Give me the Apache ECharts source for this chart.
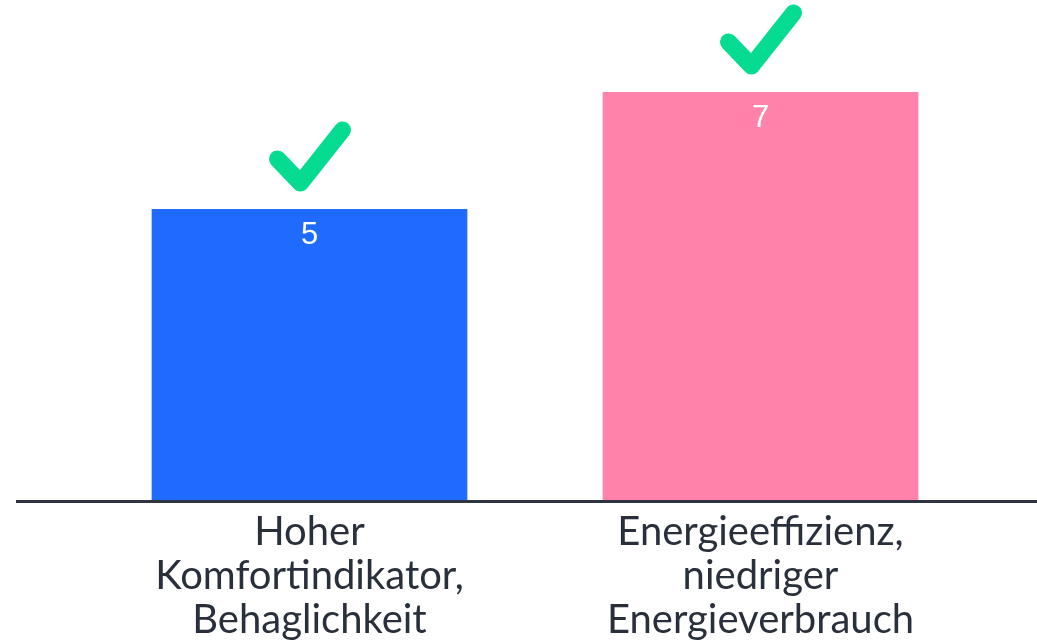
<!DOCTYPE html>
<html><head><meta charset="utf-8">
<script src="https://cdn.jsdelivr.net/npm/echarts@6/dist/echarts.min.js"></script>
<style>html,body{margin:0;padding:0;background:#fff}#c{width:1037px;height:644px}</style>
</head><body><div id="c"></div>
<script>
const categories = ['Hoher\nKomfortindikator,\nBehaglichkeit', 'Energieeffizienz,\nniedriger\nEnergieverbrauch'];
const values = [5, 7];
const barColors = ['#1F6BFF', '#FF82AA'];

const chart = echarts.init(document.getElementById('c'), null, {renderer: 'canvas'});
chart.setOption({
  animation: false,
  grid: {left: 84, width: 902, top: 33.5, bottom: 142.5, containLabel: false},
  xAxis: {
    type: 'category', data: categories,
    axisLine: {show: false}, axisTick: {show: false},
    axisLabel: {color: '#2A303B', fontSize: 40, lineHeight: 44, fontFamily: 'Lato', margin: 9, interval: 0}
  },
  yAxis: {type: 'value', min: 0, max: 8, show: false, splitLine: {show: false}},
  graphic: [{
    type: 'line', shape: {x1: 16, y1: 501.5, x2: 1037, y2: 501.5},
    style: {stroke: '#2E3440', lineWidth: 3}, z: 10
  }],
  series: [{
    type: 'bar', barWidth: '70%',
    data: values.map((v, i) => ({value: v, itemStyle: {color: barColors[i]}})),
    label: {show: true, position: 'insideTop', distance: 11, color: '#fff', fontSize: 31, fontFamily: 'Liberation Sans'}
  }, {
    type: 'custom',
    data: values.map((v, i) => [i, v]),
    renderItem: function (params, api) {
      const p = api.coord([api.value(0), api.value(1)]);
      const pts = [[-32, -50], [-9, -26], [33, -79]].map(d => [p[0] + d[0], p[1] + d[1]]);
      return {
        type: 'polyline', shape: {points: pts},
        style: {stroke: '#05DC91', lineWidth: 17, fill: null, lineJoin: 'round', lineCap: 'round'}
      };
    },
    z: 5
  }]
});
</script></body></html>
